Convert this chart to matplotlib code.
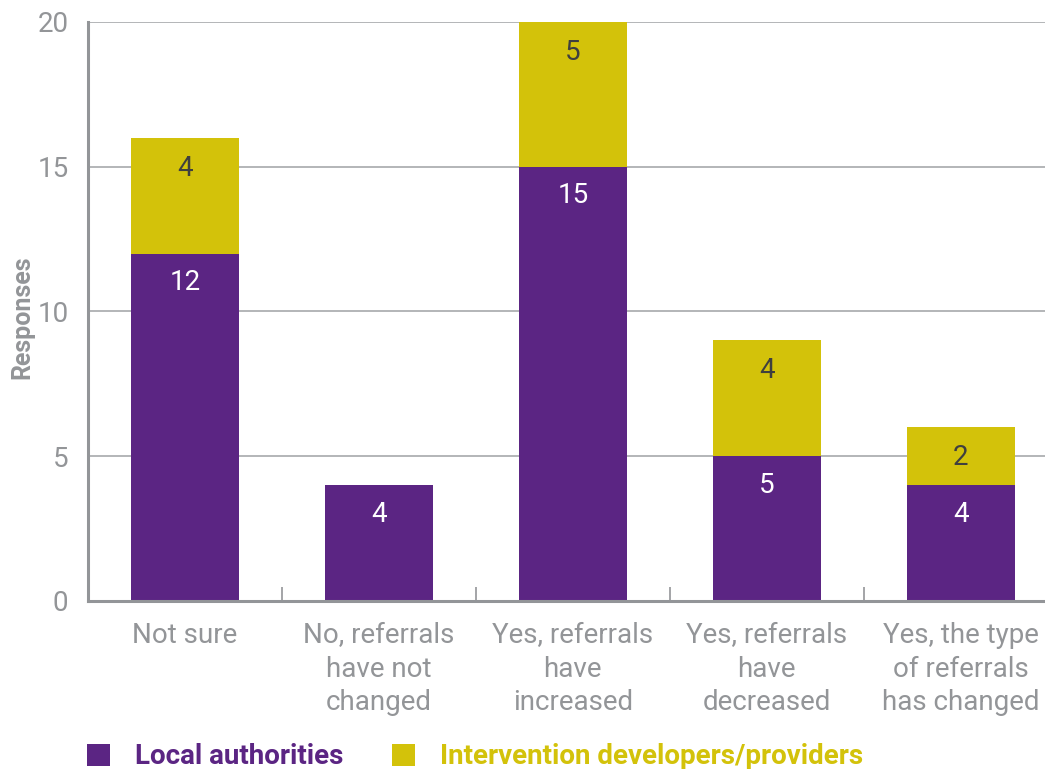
import matplotlib
matplotlib.use("Agg")
import matplotlib.pyplot as plt
from matplotlib.ticker import FixedLocator

plt.rcParams['font.family'] = ['Roboto', 'DejaVu Sans']

categories = ["Not sure", "No, referrals\nhave not\nchanged", "Yes, referrals\nhave\nincreased",
              "Yes, referrals\nhave\ndecreased", "Yes, the type\nof referrals\nhas changed"]
local_authorities = [12, 4, 15, 5, 4]
providers = [4, 0, 5, 4, 2]
series_names = ["Local authorities", "Intervention developers/providers"]
yticks = [0, 5, 10, 15, 20]

purple = "#5B2583"
yellow = "#D3C20A"
gray = "#939598"

fig = plt.figure(figsize=(10.45, 7.69), dpi=100)
ax = fig.add_axes([0.0842, 0.2185, 0.928, 0.7529])

x = list(range(len(categories)))
w = 0.557
b1 = ax.bar(x, local_authorities, width=w, color=purple, label=series_names[0], zorder=3)
b2 = ax.bar(x, providers, width=w, bottom=local_authorities, color=yellow, label=series_names[1], zorder=3)

for i, v in enumerate(local_authorities):
    if v > 0:
        ax.annotate(str(v), (i, v), xytext=(0, -21), textcoords="offset points",
                    ha="center", va="center", color="white", fontsize=20, zorder=4)
for i, v in enumerate(providers):
    if v > 0:
        ax.annotate(str(v), (i, local_authorities[i] + v), xytext=(0, -22), textcoords="offset points",
                    ha="center", va="center", color="#3f3f3f", fontsize=20, zorder=4)

ax.set_xlim(-0.5, len(categories) - 0.5)
ax.set_ylim(0, 20)
ax.set_yticks(yticks)
ax.set_xticks(x)
ax.set_xticklabels(categories, fontsize=20, color=gray, linespacing=1.32)
ax.xaxis.set_minor_locator(FixedLocator([i + 0.5 for i in range(len(categories) - 1)]))
ax.tick_params(axis="x", which="major", length=0, pad=15)
ax.tick_params(axis="x", which="minor", length=10, direction="in", color=gray, width=1.2)
ax.tick_params(axis="y", length=0, pad=14, labelsize=20, labelcolor=gray)

ax.grid(axis="y", color="#a7a9ac", linewidth=1.2, zorder=0)
for s in ["top", "right"]:
    ax.spines[s].set_visible(False)
for s in ["left", "bottom"]:
    ax.spines[s].set_color(gray)
    ax.spines[s].set_linewidth(2.2)
    ax.spines[s].set_zorder(5)

ax.set_ylabel("Responses", fontsize=18, fontweight="bold", color=gray, va="center")
ax.yaxis.set_label_coords(-0.068, 0.49)

leg = fig.legend(handles=[b1, b2], labels=series_names, loc="center left",
                 bbox_to_anchor=(0.0833, 1 - 757 / 769), ncol=2, frameon=False,
                 borderpad=0, borderaxespad=0,
                 handlelength=0.83, handleheight=0.83, handletextpad=0.9,
                 columnspacing=1.75, prop={"size": 20, "weight": "bold"})
for t, c in zip(leg.get_texts(), [purple, yellow]):
    t.set_color(c)

fig.savefig("out.png", dpi=100)
